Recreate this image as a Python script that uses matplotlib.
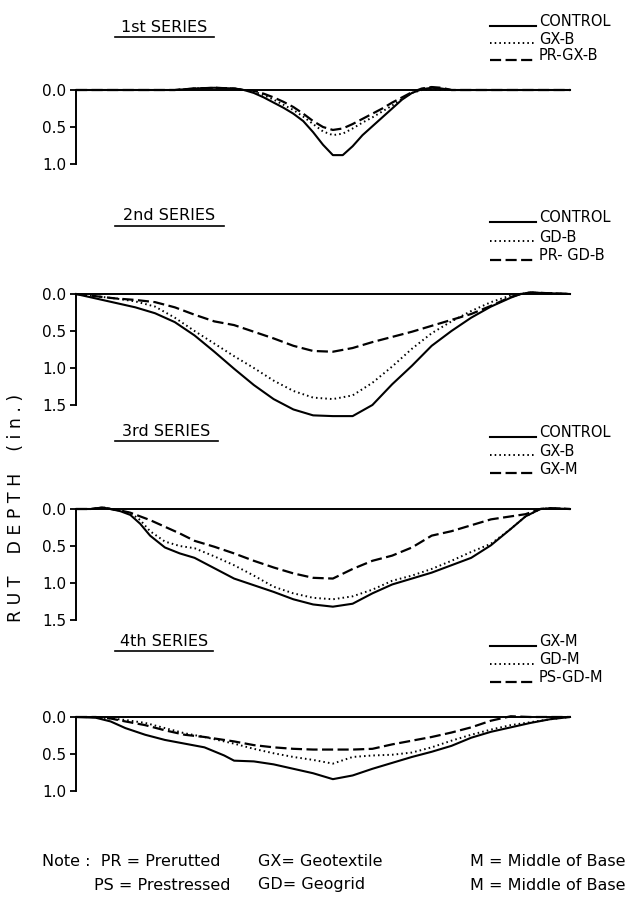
"""Rut depth profiles for four test series (stacked panels)."""

import matplotlib

matplotlib.use("Agg")

import matplotlib.pyplot as plt
from matplotlib.lines import Line2D

W, H = 632, 899

# ---- data: transverse position (% of section width) vs rut depth (in.)
X1 = [0, 20, 24, 28, 32, 34, 36, 38, 40, 42, 44, 46, 48, 50, 52, 54, 56, 58,
      60, 62, 64, 66, 68, 70, 72, 74, 76, 100]
S1_CONTROL = [0, 0, -0.02, -0.03, -0.02, 0, 0.04, 0.10, 0.17, 0.24, 0.32, 0.42,
              0.57, 0.74, 0.88, 0.88, 0.76, 0.61, 0.49, 0.37, 0.25, 0.13, 0.04,
              -0.01, -0.03, -0.02, 0, 0]
S1_GXB = [0, 0, -0.02, -0.03, -0.02, 0, 0.02, 0.07, 0.13, 0.20, 0.27, 0.36,
          0.46, 0.56, 0.61, 0.59, 0.52, 0.44, 0.37, 0.29, 0.21, 0.12, 0.04,
          0, -0.01, 0, 0, 0]
S1_PRGXB = [0, 0, -0.02, -0.03, -0.02, 0, 0.01, 0.05, 0.10, 0.16, 0.23, 0.32,
            0.42, 0.50, 0.54, 0.52, 0.46, 0.39, 0.32, 0.25, 0.17, 0.10, 0.03,
            -0.02, -0.04, -0.03, 0, 0]

X2 = [0, 4, 8, 12, 16, 20, 24, 28, 32, 36, 40, 44, 48, 52, 56, 60, 64, 68, 72,
      76, 80, 84, 88, 90, 92, 100]
S2_CONTROL = [0, 0.06, 0.12, 0.18, 0.26, 0.38, 0.56, 0.78, 1.01, 1.23, 1.42,
              1.56, 1.64, 1.65, 1.65, 1.50, 1.22, 0.97, 0.70, 0.50, 0.32, 0.17,
              0.05, 0, -0.02, 0]
S2_GDB = [0, 0.03, 0.06, 0.10, 0.17, 0.32, 0.50, 0.67, 0.84, 1.00, 1.17, 1.31,
          1.40, 1.42, 1.37, 1.20, 0.98, 0.74, 0.53, 0.37, 0.23, 0.11, 0.02, 0,
          -0.02, 0]
S2_PRGDB = [0, 0.03, 0.06, 0.08, 0.11, 0.18, 0.28, 0.37, 0.42, 0.51, 0.60,
            0.70, 0.77, 0.78, 0.73, 0.65, 0.58, 0.51, 0.43, 0.35, 0.27, 0.16,
            0.04, 0, -0.02, 0]

X3 = [0, 3, 5.5, 7, 9, 11, 13, 15, 18, 21, 24, 28, 32, 36, 40, 44, 48, 52, 56,
      60, 64, 68, 72, 76, 80, 84, 88, 91, 94, 96, 100]
S3_CONTROL = [0, 0, -0.02, 0, 0.03, 0.08, 0.20, 0.36, 0.52, 0.60, 0.66, 0.80,
              0.94, 1.03, 1.12, 1.22, 1.29, 1.32, 1.28, 1.14, 1.02, 0.94, 0.86,
              0.76, 0.66, 0.49, 0.27, 0.10, 0, -0.01, 0]
S3_GXB = [0, 0, -0.02, 0, 0.02, 0.05, 0.15, 0.30, 0.44, 0.50, 0.53, 0.64, 0.76,
          0.90, 1.05, 1.14, 1.20, 1.22, 1.18, 1.09, 0.97, 0.90, 0.81, 0.70,
          0.58, 0.47, 0.27, 0.10, 0, -0.01, 0]
S3_GXM = [0, 0, -0.02, 0, 0.02, 0.05, 0.10, 0.15, 0.24, 0.33, 0.43, 0.51,
          0.60, 0.70, 0.79, 0.87, 0.93, 0.94, 0.81, 0.70, 0.63, 0.52, 0.36,
          0.30, 0.22, 0.14, 0.10, 0.07, 0, -0.01, 0]

X4 = [0, 4, 7, 10, 14, 18, 22, 26, 30, 32, 36, 40, 44, 48, 52, 56, 60, 64, 68,
      72, 76, 80, 84, 88, 92, 96, 100]
S4_GXM = [0, 0.01, 0.06, 0.15, 0.24, 0.31, 0.36, 0.41, 0.52, 0.59, 0.60, 0.64,
          0.70, 0.76, 0.84, 0.79, 0.70, 0.62, 0.54, 0.47, 0.39, 0.28, 0.20,
          0.14, 0.08, 0.03, 0]
S4_GDM = [0, 0, 0.02, 0.04, 0.08, 0.15, 0.22, 0.27, 0.33, 0.36, 0.43, 0.49,
          0.54, 0.58, 0.63, 0.54, 0.52, 0.51, 0.48, 0.41, 0.32, 0.24, 0.17,
          0.11, 0.07, 0.03, 0]
S4_PSGDM = [0, 0, 0.02, 0.06, 0.11, 0.18, 0.24, 0.27, 0.31, 0.33, 0.38, 0.41,
            0.43, 0.44, 0.44, 0.44, 0.43, 0.37, 0.32, 0.27, 0.21, 0.14, 0.05,
            -0.01, 0, 0, 0]

TITLES = ["1st SERIES", "2nd SERIES", "3rd SERIES", "4th SERIES"]
LEGENDS = [
    ["CONTROL", "GX-B", "PR-GX-B"],
    ["CONTROL", "GD-B", "PR- GD-B"],
    ["CONTROL", "GX-B", "GX-M"],
    ["GX-M", "GD-M", "PS-GD-M"],
]
MAX_DEPTH = [1.0, 1.5, 1.5, 1.0]
NOTES = [
    ("Note :  PR = Prerutted", "PS = Prestressed"),
    ("GX= Geotextile", "GD= Geogrid"),
    ("M = Middle of Base", "M = Middle of Base"),
]

# ---- layout (pixels from top-left)
AX_LEFT, AX_RIGHT = 76, 570
AX_TOP = [90, 294, 509, 717]
PX_PER_IN = 74
TITLE_POS = [(115, 214, 27), (115, 224, 216), (115, 218, 431), (115, 213, 641)]
LEG_Y = [(22, 39, 56), (218, 237, 256), (433, 451, 469), (642, 660, 678)]

STYLES = [
    dict(linestyle="-", linewidth=1.5),
    dict(linestyle=(0, (0.8, 1.6)), linewidth=1.4),
    dict(linestyle=(0, (5, 2)), linewidth=1.6),
]

plt.rcParams["font.family"] = ["DejaVu Sans"]


def fx(x):
    return x / W


def fy(y):
    return 1 - y / H


def draw_panel(fig, i, x, series):
    top = AX_TOP[i]
    height = MAX_DEPTH[i] * PX_PER_IN
    ax = fig.add_axes([fx(AX_LEFT), fy(top + height), (AX_RIGHT - AX_LEFT) / W, height / H])
    for ys, st in zip(series, STYLES):
        ax.plot(x, ys, color="black", clip_on=False, **st)
    ax.set_xlim(0, 100)
    ax.set_ylim(MAX_DEPTH[i], 0)
    ticks = [0.0, 0.5, 1.0, 1.5][: int(MAX_DEPTH[i] / 0.5) + 1]
    ax.set_yticks(ticks)
    ax.set_yticklabels([f"{t:.1f}" for t in ticks])
    ax.set_xticks([])
    ax.tick_params(axis="y", direction="out", length=4, width=1.3, pad=3, labelsize=11)
    for side in ("right", "bottom"):
        ax.spines[side].set_visible(False)
    for side in ("left", "top"):
        ax.spines[side].set_linewidth(1.4)
    ax.patch.set_visible(False)

    # underlined series title
    x0, x1, ty = TITLE_POS[i]
    fig.text(fx((x0 + x1) / 2), fy(ty), TITLES[i], ha="center", va="center", fontsize=11.5)
    fig.add_artist(Line2D([fx(x0), fx(x1)], [fy(ty + 10)] * 2, color="black", lw=1.2))

    # hand-drawn legend at the right
    for label, ly, st in zip(LEGENDS[i], LEG_Y[i], STYLES):
        fig.add_artist(Line2D([fx(490), fx(536)], [fy(ly + 4)] * 2, color="black", **st))
        fig.text(fx(539), fy(ly), label, ha="left", va="center", fontsize=10.5)


def main():
    fig = plt.figure(figsize=(W / 100, H / 100), dpi=100)

    draw_panel(fig, 0, X1, [S1_CONTROL, S1_GXB, S1_PRGXB])
    draw_panel(fig, 1, X2, [S2_CONTROL, S2_GDB, S2_PRGDB])
    draw_panel(fig, 2, X3, [S3_CONTROL, S3_GXB, S3_GXM])
    draw_panel(fig, 3, X4, [S4_GXM, S4_GDM, S4_PSGDM])

    fig.text(fx(16), fy(508), "R U T    D E P T H    ( i n . )", rotation=90,
             ha="center", va="center", fontsize=12.5)

    note_x = [42, 258, 470]
    for (line1, line2), nx in zip(NOTES, note_x):
        fig.text(fx(nx), fy(862), line1, ha="left", va="center", fontsize=11.5)
        off = 52 if line2.startswith("PS") else 0
        fig.text(fx(nx + off), fy(885), line2, ha="left", va="center", fontsize=11.5)

    fig.savefig("out.png", dpi=100)


if __name__ == "__main__":
    main()
